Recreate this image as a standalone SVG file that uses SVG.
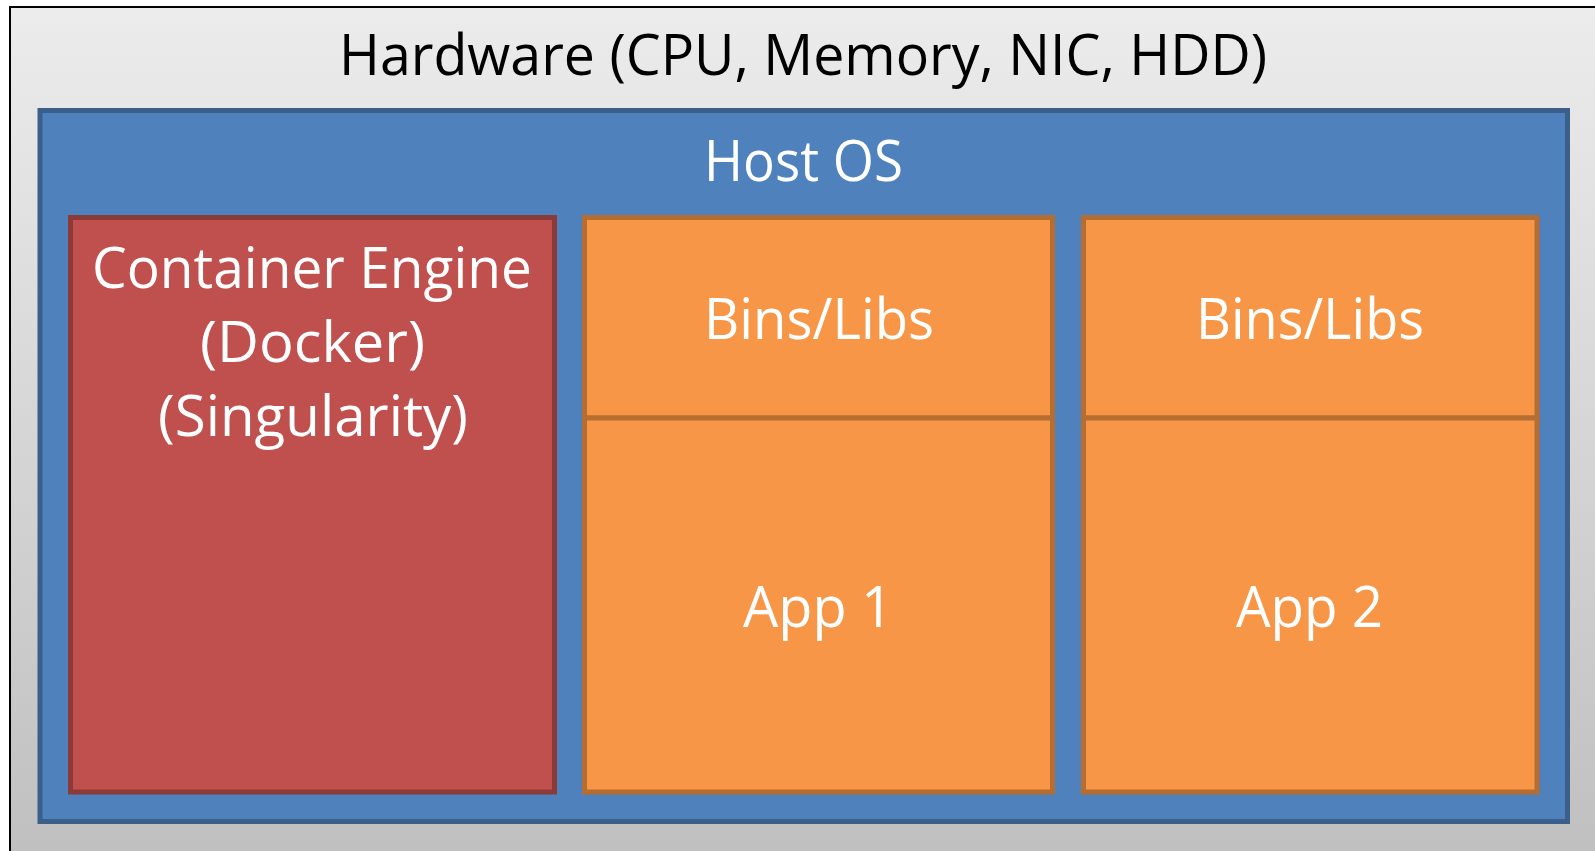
<svg xmlns="http://www.w3.org/2000/svg" width="1595" height="851" viewBox="0 0 1595 851">
  <defs>
    <linearGradient id="hwFill" gradientUnits="userSpaceOnUse" x1="0" y1="7" x2="0" y2="851">
      <stop offset="0" stop-color="#ececec"/>
      <stop offset="1" stop-color="#c0c0c0"/>
    </linearGradient>
    <style>
      .lbl { font-family: "Open Sans", "Liberation Sans", sans-serif; font-size: 57px; text-anchor: middle; }
      .dark { fill: #000000; }
      .light { fill: #ffffff; }
      .os { fill: #4f81bd; stroke: #3a5f8b; stroke-width: 5; }
      .engine { fill: #c0504d; stroke: #8c3a38; stroke-width: 5; }
      .cont { fill: #f79646; stroke: #b66d31; stroke-width: 5; }
    </style>
  </defs>

  <!-- hardware layer -->
  <g id="hardware">
    <rect x="10" y="7" width="1620" height="900" fill="url(#hwFill)" stroke="#000000" stroke-width="2"/>
    <text class="lbl dark" x="803" y="75" textLength="928" lengthAdjust="spacingAndGlyphs">Hardware (CPU, Memory, NIC, HDD)</text>
  </g>

  <!-- host operating system -->
  <g id="host-os">
    <rect class="os" x="40" y="110.5" width="1527.5" height="711"/>
    <text class="lbl light" x="803.5" y="181" textLength="199" lengthAdjust="spacingAndGlyphs">Host OS</text>
  </g>

  <!-- container engine -->
  <g id="container-engine">
    <rect class="engine" x="70.5" y="217.5" width="484" height="574.5"/>
    <text class="lbl light" x="312" y="288" textLength="440" lengthAdjust="spacingAndGlyphs">Container Engine</text>
    <text class="lbl light" x="312.5" y="362" textLength="225" lengthAdjust="spacingAndGlyphs">(Docker)</text>
    <text class="lbl light" x="313" y="436" textLength="310" lengthAdjust="spacingAndGlyphs">(Singularity)</text>
  </g>

  <!-- container 1 -->
  <g id="bins-libs-1">
    <rect class="cont" x="584.5" y="217.5" width="468" height="200.5"/>
    <text class="lbl light" x="819" y="339" textLength="230" lengthAdjust="spacingAndGlyphs">Bins/Libs</text>
  </g>
  <g id="app-1">
    <rect class="cont" x="584.5" y="418" width="468" height="374"/>
    <text class="lbl light" x="818" y="627" textLength="150" lengthAdjust="spacingAndGlyphs">App 1</text>
  </g>

  <!-- container 2 -->
  <g id="bins-libs-2">
    <rect class="cont" x="1083.5" y="217.5" width="453.5" height="200.5"/>
    <text class="lbl light" x="1310" y="339" textLength="228" lengthAdjust="spacingAndGlyphs">Bins/Libs</text>
  </g>
  <g id="app-2">
    <rect class="cont" x="1083.5" y="418" width="453.5" height="374"/>
    <text class="lbl light" x="1309.5" y="627" textLength="147" lengthAdjust="spacingAndGlyphs">App 2</text>
  </g>

  <!-- layered stack: no connectors -->
  <g id="connectors"/>
</svg>
